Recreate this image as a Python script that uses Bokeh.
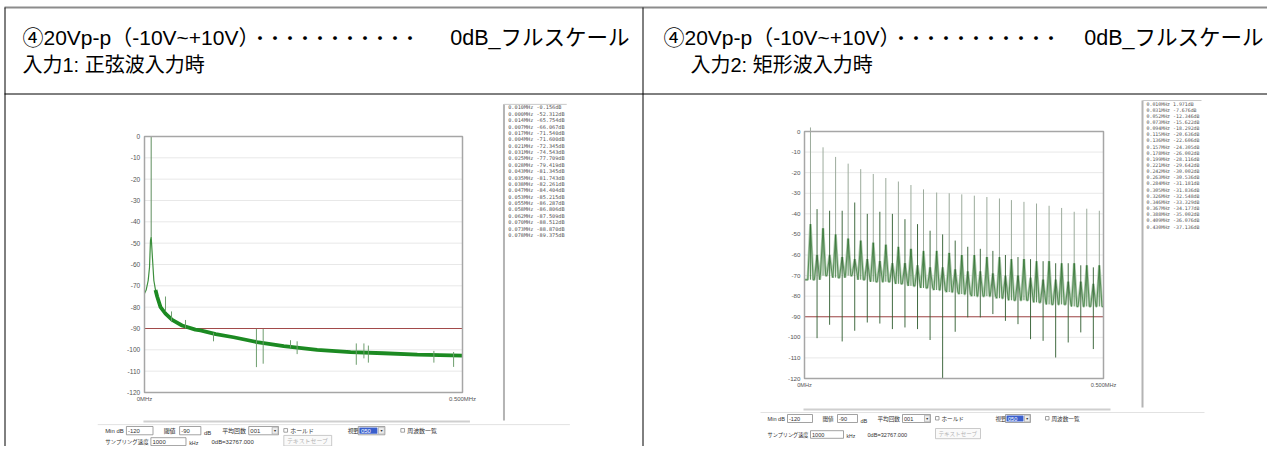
from bokeh.plotting import figure
from bokeh.models import Range1d
from bokeh.core.properties import value
from bokeh.embed import file_html
from bokeh.resources import INLINE

# ---------------- data ----------------
header_parts = ["④20Vp-p（-10V~+10V）", "・・・・・・・・・・・", "0dB_フルスケール"]
title_sine = "入力1: 正弦波入力時"
title_square = "入力2: 矩形波入力時"

db_ticks = [0, -10, -20, -30, -40, -50, -60, -70, -80, -90, -100, -110, -120]
db_tick_labels = ["0", "-10", "-20", "-30", "-40", "-50", "-60", "-70", "-80", "-90", "-100", "-110", "-120"]
freq_ticks = [0.0, 0.5]
freq_tick_labels = ["0MHz", "0.500MHz"]
threshold_db = -90

# sine input: noise-floor trace (MHz, dB)
sine_f = [0.000, 0.0026, 0.0058, 0.0079, 0.0094, 0.0105, 0.0121, 0.0147, 0.0173, 0.0199, 0.0252,
          0.0330, 0.0435, 0.0590, 0.0800, 0.0880, 0.1120, 0.1400, 0.1770, 0.2190, 0.2715,
          0.3240, 0.3760, 0.4290, 0.5000]
sine_db = [-73.6, -72.0, -67.5, -61.3, -48.8, -47.0, -55.0, -67.5, -72.0, -75.0, -80.0,
           -83.0, -86.0, -88.6, -90.5, -90.9, -92.6, -94.1, -96.4, -98.3, -100.0,
           -101.1, -101.6, -102.2, -102.7]
tone_f = [0.0105]
tone_db = [-0.156]
spur_f = [0.0330, 0.0425, 0.0645, 0.1085, 0.1760, 0.1866, 0.2296, 0.2400, 0.3330, 0.3450, 0.3520, 0.4550, 0.4860]
spur_top = [-75.0, -82.0, -86.0, -92.0, -90.2, -90.2, -95.5, -96.0, -97.0, -97.0, -98.0, -100.5, -101.0]
spur_bot = [-82.0, -87.0, -90.0, -96.0, -108.1, -106.5, -99.0, -102.0, -107.0, -104.0, -106.0, -106.0, -108.0]

# square input: odd harmonics, even (alias) spikes, floor
sq_odd_f = [0.010, 0.031, 0.052, 0.073, 0.094, 0.115, 0.136, 0.157, 0.178, 0.199, 0.221, 0.242,
            0.263, 0.284, 0.305, 0.326, 0.346, 0.367, 0.388, 0.409, 0.430, 0.451, 0.472, 0.493]
sq_odd_db = [1.971, -7.676, -12.346, -15.622, -18.292, -20.636, -22.606, -24.305, -26.002, -28.116,
             -29.642, -30.002, -30.536, -31.181, -31.836, -32.548, -33.329, -34.177, -35.002,
             -36.076, -37.136, -39.0, -37.5, -38.5]
sq_odd_skirt = [-45, -47, -50, -52, -53, -54, -55, -56, -57, -58, -58, -59,
                -60, -60, -61, -61, -62, -62, -63, -63, -64, -64, -65, -65]
sq_floor = [-72, -70, -71, -70, -72, -73, -73, -74, -75, -76, -77, -78,
            -79, -80, -80, -81, -82, -82, -83, -84, -84, -85, -85, -85]
sq_even_f = [0.021, 0.042, 0.063, 0.084, 0.105, 0.126, 0.147, 0.168, 0.189, 0.210, 0.231, 0.252,
             0.273, 0.294, 0.315, 0.336, 0.357, 0.378, 0.399, 0.420, 0.441, 0.462, 0.483]
sq_even_up = [-37.7, -38.5, -38.5, -34.5, -40.0, -39.0, -40.0, -42.6, -45.0, -48.2, -50.0, -53.0,
              -56.0, -57.0, -58.0, -60.0, -61.0, -62.0, -63.0, -64.0, -64.0, -65.0, -66.0]
sq_even_down = [-100.4, -93.9, -102.0, -96.8, -92.8, -93.3, -96.0, -95.2, -96.0, -101.3, -120.0, -97.3,
                -90.3, -90.3, -88.7, -92.0, -93.6, -100.9, -101.7, -109.8, -102.5, -97.6, -105.7]
sq_even_skirt = [-60, -60, -61, -62, -62, -63, -64, -64, -65, -66, -66, -67,
                 -68, -68, -69, -70, -70, -71, -72, -72, -73, -73, -74]

# peak lists shown at the right of each screen
list_sine_f = [0.010, 0.000, 0.014, 0.007, 0.017, 0.004, 0.021, 0.031, 0.025, 0.028, 0.043,
               0.035, 0.038, 0.047, 0.053, 0.055, 0.058, 0.062, 0.070, 0.073, 0.078]
list_sine_db = [-0.156, -52.312, -65.754, -66.067, -71.540, -71.600, -72.345, -74.543, -77.709,
                -79.419, -81.345, -81.743, -82.261, -84.404, -85.215, -86.287, -86.806, -87.509,
                -88.512, -88.870, -89.375]
list_sq_f = [0.010, 0.031, 0.052, 0.073, 0.094, 0.115, 0.136, 0.157, 0.178, 0.199, 0.221,
             0.242, 0.263, 0.284, 0.305, 0.326, 0.346, 0.367, 0.388, 0.409, 0.430]
list_sq_db = [1.971, -7.676, -12.346, -15.622, -18.292, -20.636, -22.606, -24.305, -26.002,
              -28.116, -29.642, -30.002, -30.536, -31.181, -31.836, -32.548, -33.329, -34.177,
              -35.002, -36.076, -37.136]

# ---------------- figure (pixel coordinates of the picture) ----------------
p = figure(width=1267, height=446, x_range=Range1d(0, 1267), y_range=Range1d(446, 0),
           output_backend="svg", toolbar_location=None, min_border=0,
           x_axis_location=None, y_axis_location=None)
p.grid.visible = False
p.outline_line_color = None
p.background_fill_color = "white"
p.border_fill_color = "white"

JP = value("Liberation Sans, Noto Sans CJK JP")
CJK = value("Noto Sans CJK JP")
SANS = value("Liberation Sans")
MONO = value("DejaVu Sans Mono")


def label(x, y, s, size, color="#333333", align="left", font=CJK, baseline="middle", style="normal"):
    p.text(x=[x], y=[y], text=[s], text_font=font, text_font_size=f"{size:.2f}px",
           text_color=color, text_align=align, text_baseline=baseline, text_font_style=style)


def box(x0, y0, x1, y1, fill="white", line="#8a8a8a", lw=0.8):
    p.quad(left=[x0], right=[x1], top=[y0], bottom=[y1], fill_color=fill,
           line_color=line, line_width=lw)


# table lines
p.segment(x0=[4], y0=[7], x1=[1267], y1=[7], line_color="#8c8c8c", line_width=2)
p.segment(x0=[4.5], y0=[7], x1=[4.5], y1=[446], line_color="black", line_width=1)
p.segment(x0=[642.5], y0=[7], x1=[642.5], y1=[446], line_color="black", line_width=1)
p.segment(x0=[4], y0=[93.5], x1=[1267], y1=[93.5], line_color="black", line_width=1)

# header texts
for x_start, x_dots, x_end, title, x_title in [(22, 252, 629, title_sine, 22),
                                                (663, 893, 1263, title_square, 690)]:
    label(x_start, 37, header_parts[0], 21, color="black", font=JP)
    label(x_dots, 37, header_parts[1], 15, color="black", font=CJK, style="bold")
    label(x_end, 37, header_parts[2], 21.5, color="black", font=JP, align="right")
    label(x_title, 64, title, 20, color="black", font=JP)


def draw_sine(sub):
    sub.line(sine_f, sine_db, line_color="#3d8f3d", line_width=1.2)
    band = [i for i, f in enumerate(sine_f) if f >= 0.017]
    sub.line([sine_f[i] for i in band], [sine_db[i] for i in band], line_color="#1c8a22", line_width=3.8)
    sub.segment(x0=spur_f, y0=spur_top, x1=spur_f, y1=spur_bot, line_color="#6e9e6e", line_width=1)
    sub.segment(x0=tone_f, y0=[sine_db[5]], x1=tone_f, y1=tone_db, line_color="#5f8f5f", line_width=1)


def draw_square(sub):
    xs, ys = [0.0], [sq_floor[0]]
    w = 0.0045
    for k, fo in enumerate(sq_odd_f):
        xs += [fo - w, fo, fo + w]
        ys += [sq_floor[k], sq_odd_skirt[k], sq_floor[k]]
        if k < len(sq_even_f):
            fe = sq_even_f[k]
            xs += [fe - w, fe, fe + w]
            ys += [sq_floor[k], sq_even_skirt[k], sq_floor[k]]
    xs.append(0.5)
    ys.append(sq_floor[-1])
    sub.line(xs, ys, line_color="#b2cbb2", line_width=2.6)
    sub.line(xs, ys, line_color="#3f7f3f", line_width=0.8)
    sub.segment(x0=sq_odd_f, y0=sq_odd_skirt, x1=sq_odd_f, y1=sq_odd_db, line_color="#9cab9c", line_width=1)
    sub.segment(x0=sq_odd_f, y0=sq_floor, x1=sq_odd_f, y1=sq_odd_skirt, line_color="#2f6f2f", line_width=0.8)
    sub.segment(x0=sq_even_f, y0=sq_even_up, x1=sq_even_f, y1=sq_even_down, line_color="#2c5a2c", line_width=0.9)


def screen(ox, oy, sx, sy, draw, lf, ld, scroll_dy, panel_dy, r1, r2, list_bottom):
    def X(dx):
        return ox + dx * sx

    def Y(dy):
        return oy + dy * sy

    fs = sx
    sub = p.subplot(x_source=Range1d(0, 0.5), y_source=Range1d(-120, 0),
                    x_target=Range1d(X(0), X(299)), y_target=Range1d(Y(247), Y(0)))
    grid = db_ticks[1:-1]
    sub.segment(x0=[0] * len(grid), y0=grid, x1=[0.5] * len(grid), y1=grid,
                line_color="#e8e8e8", line_width=1)
    sub.segment(x0=[0], y0=[threshold_db], x1=[0.5], y1=[threshold_db], line_color="#a24a4a", line_width=1)
    draw(sub)
    sub.quad(left=[0], right=[0.5], bottom=[-120], top=[0], fill_color=None,
             line_color="#a6a6a6", line_width=1.5)
    sub.text(x=[0] * len(db_ticks), y=db_ticks, text=db_tick_labels, x_offset=-4 * sx,
             text_align="right", text_baseline="middle", text_font=SANS,
             text_font_size=f"{6.2 * fs:.2f}px", text_color="#555555")
    sub.text(x=freq_ticks, y=[-120, -120], text=freq_tick_labels, y_offset=6.5 * sy,
             text_align="center", text_baseline="middle", text_font=SANS,
             text_font_size=f"{5.6 * fs:.2f}px", text_color="#555555")

    # peak list panel
    lx = X(338)
    p.segment(x0=[lx], y0=[Y(-31)], x1=[lx], y1=[Y(list_bottom)], line_color="#b4b4b4", line_width=2)
    p.segment(x0=[lx], y0=[Y(-31)], x1=[X(397)], y1=[Y(-31)], line_color="#c8c8c8", line_width=1)
    rows = [f"{f:.3f}MHz{d:8.3f}dB" for f, d in zip(lf, ld)]
    p.text(x=[X(342)] * len(rows), y=[Y(-28 + i * 6.15) for i in range(len(rows))], text=rows,
           text_font=MONO, text_font_size=f"{4.9 * fs:.2f}px", text_color="#555555",
           text_baseline="middle")

    # scrollbar and control panel
    p.segment(x0=[X(-1)], y0=[Y(scroll_dy)], x1=[X(306)], y1=[Y(scroll_dy)], line_color="#cfcfcf", line_width=2)
    p.segment(x0=[X(-44)], y0=[Y(panel_dy)], x1=[X(400)], y1=[Y(panel_dy)], line_color="#e2e2e2", line_width=1)
    f5 = 5.6 * fs
    label(X(-37), Y(r1), "Min dB", f5, font=SANS)
    box(X(-17), Y(r1 - 4), X(8), Y(r1 + 4))
    label(X(-15.5), Y(r1), "-120", f5, font=SANS)
    label(X(18), Y(r1), "閾値", f5)
    box(X(33), Y(r1 - 4), X(53), Y(r1 + 4))
    label(X(34.5), Y(r1), "-90", f5, font=SANS)
    label(X(56), Y(r1 + 2.5), "dB", f5, font=SANS)
    label(X(73), Y(r1), "平均回数", f5)
    box(X(98), Y(r1 - 4), X(126), Y(r1 + 4))
    label(X(99.5), Y(r1), "001", f5, font=SANS)
    box(X(120), Y(r1 - 3.3), X(125.5), Y(r1 + 3.3), fill="#ececec", line="#b0b0b0")
    label(X(122.8), Y(r1), "▼", 3.4 * fs, align="center", font=SANS)
    box(X(131), Y(r1 - 2), X(134.5), Y(r1 + 1.5))
    label(X(137), Y(r1), "ホールド", f5)
    label(X(191), Y(r1), "視野", f5)
    box(X(201), Y(r1 - 4), X(226), Y(r1 + 4))
    box(X(202), Y(r1 - 3), X(219), Y(r1 + 3), fill="#3a5fcd", line=None)
    label(X(203.5), Y(r1), "050", f5, color="white", font=SANS)
    box(X(220), Y(r1 - 3.3), X(225.5), Y(r1 + 3.3), fill="#ececec", line="#b0b0b0")
    label(X(222.8), Y(r1), "▼", 3.4 * fs, align="center", font=SANS)
    box(X(241), Y(r1 - 2), X(244.5), Y(r1 + 1.5))
    label(X(247), Y(r1), "周波数一覧", f5)
    label(X(-37), Y(r2), "サンプリング速度", f5 * 0.92)
    box(X(6), Y(r2 - 3.8), X(39), Y(r2 + 3.8))
    label(X(7.5), Y(r2), "1000", f5, font=SANS)
    label(X(42), Y(r2 + 1.5), "kHz", f5 * 0.9, font=SANS)
    label(X(63), Y(r2), "0dB=32767.000", f5, font=SANS)
    box(X(131), Y(r2 - 6), X(176), Y(r2 + 4.2), fill="#fafafa", line="#bdbdbd")
    label(X(153.5), Y(r2 - 0.8), "テキストセーブ", f5, color="#b4b4b4", align="center")


screen(144, 136, 318 / 299, 256 / 247, draw_sine, list_sine_f, list_sine_db,
       scroll_dy=275, panel_dy=278, r1=283.8, r2=294.4, list_bottom=274)
screen(804, 131, 1.0, 1.0, draw_square, list_sq_f, list_sq_db,
       scroll_dy=278, panel_dy=281, r1=287, r2=303, list_bottom=276)

open("out.html", "w").write(file_html(p, INLINE))
